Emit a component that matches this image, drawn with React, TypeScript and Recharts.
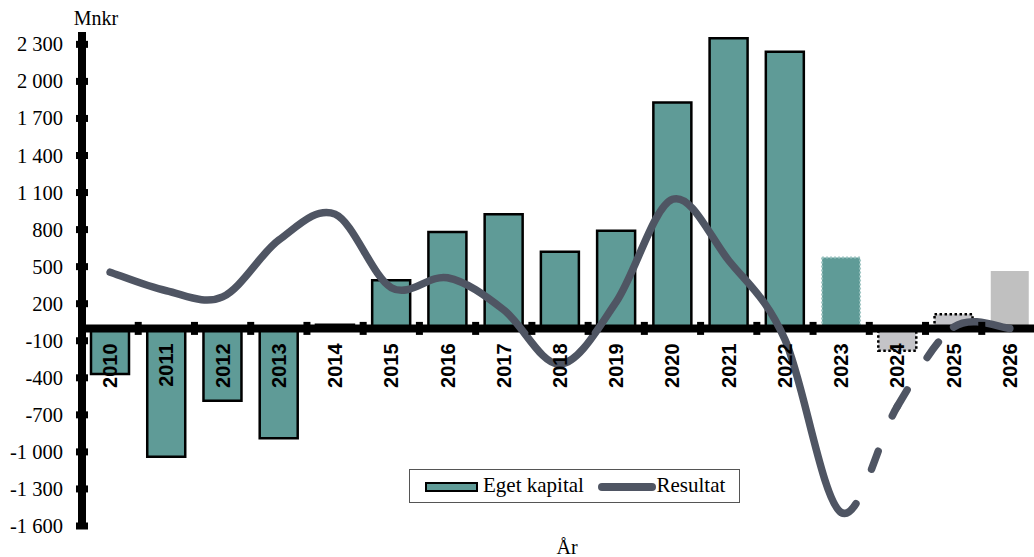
import React from 'react';
import { ComposedChart, Bar, Line, XAxis, YAxis, Cell, ReferenceLine, Legend } from 'recharts';

const YEARS = ['2010', '2011', '2012', '2013', '2014', '2015', '2016', '2017', '2018', '2019', '2020', '2021', '2022', '2023', '2024', '2025', '2026'];
const EGET_KAPITAL = [-370, -1040, -585, -890, 30, 390, 780, 925, 620, 790, 1830, 2350, 2240, 575, -180, 115, 465];
const RESULTAT = [455, 305, 255, 715, 925, 330, 410, 150, -290, 215, 1045, 550, -90, -1490, -630, 10, 0];
const Y_TICKS = [-1600, -1300, -1000, -700, -400, -100, 200, 500, 800, 1100, 1400, 1700, 2000, 2300];
// bar style kind per year: actual, projected, estimate (dotted gray), plain gray
const BAR_KIND = ['a', 'a', 'a', 'a', 'a', 'a', 'a', 'a', 'a', 'a', 'a', 'a', 'a', 'p', 'e', 'e', 'g'];

const Y_MIN = -1600;
const Y_MAX = 2400;

const data = YEARS.map((year, i) => ({ year, eget: EGET_KAPITAL[i], resultat: RESULTAT[i] }));

const CHART_W = 1039;
const CHART_H = 557;
const X_AXIS_H = 1;
const MARGIN = { top: 32, right: 1, bottom: 30, left: 0 };
const Y_AXIS_W = 82;
const PLOT_W = CHART_W - MARGIN.left - MARGIN.right - Y_AXIS_W;
const PLOT_H = CHART_H - MARGIN.top - MARGIN.bottom - X_AXIS_H;
const BAND = PLOT_W / YEARS.length;
const ZERO_Y = MARGIN.top + ((Y_MAX - 0) / (Y_MAX - Y_MIN)) * PLOT_H;

const SERIF = '"Liberation Serif", "Times New Roman", serif';
const SANS = '"Liberation Sans", Arial, sans-serif';
const TEAL = '#5f9b97';
const LINE_COLOR = '#4f5563';
const GRAY = '#c4c4c8';

const fmt = (v: number) => {
  const s = Math.abs(v).toString().replace(/\B(?=(\d{3})+(?!\d))/g, ' ');
  return (v < 0 ? '-' : '') + s;
};

function makeCurve(from: number, to: number) {
  return (context: any) => {
    let pts: number[][] = [];
    return {
      areaStart() {},
      areaEnd() {},
      lineStart() {
        pts = [];
      },
      point(x: number, y: number) {
        pts.push([+x, +y]);
      },
      lineEnd() {
        const n = pts.length;
        const s = Math.max(0, from);
        const e = Math.min(n - 1, to);
        if (n < 2 || s >= e) return;
        context.moveTo(pts[s][0], pts[s][1]);
        for (let i = s; i < e; i++) {
          const p0 = pts[Math.max(0, i - 1)];
          const p1 = pts[i];
          const p2 = pts[i + 1];
          const p3 = pts[Math.min(n - 1, i + 2)];
          const c1x = p1[0] + (p2[0] - p0[0]) / 6;
          const c1y = p1[1] + (p2[1] - p0[1]) / 6;
          const c2x = p2[0] - (p3[0] - p1[0]) / 6;
          const c2y = p2[1] - (p3[1] - p1[1]) / 6;
          context.bezierCurveTo(c1x, c1y, c2x, c2y, p2[0], p2[1]);
        }
      },
    };
  };
}

const LINE_PARTS = [
  { from: 0, to: 13, dash: undefined as string | undefined },
  { from: 13, to: 14, dash: '19 38' },
  { from: 14, to: 15, dash: '19 38' },
  { from: 15, to: 16, dash: undefined as string | undefined },
];

const YTick = (props: any) => {
  const { x, y, payload } = props;
  return (
    <g>
      <rect x={x - 6} y={y - 3.5} width={12} height={7} fill="#000" />
      <text x={63} y={y + 7} textAnchor="end" fontFamily={SERIF} fontSize={20.5} fill="#000">
        {fmt(payload.value)}
      </text>
    </g>
  );
};

const XTick = (props: any) => {
  const { x, payload } = props;
  return (
    <g>
      <rect x={x + BAND / 2 - 3.5} y={ZERO_Y - 6.5} width={7} height={13} fill="#000" />
      <g transform={`translate(${x},${ZERO_Y + 15}) rotate(-90)`}>
        <text x={0} y={7} textAnchor="end" fontFamily={SANS} fontWeight="bold" fontSize={20} fill="#000">
          {payload.value}
        </text>
      </g>
    </g>
  );
};

const cellProps = (kind: string) => {
  switch (kind) {
    case 'p':
      return { fill: TEAL, stroke: '#9cc4c1', strokeWidth: 2, strokeDasharray: '2 2' };
    case 'e':
      return { fill: GRAY, stroke: '#000', strokeWidth: 2.5, strokeDasharray: '2.5 2.5' };
    case 'g':
      return { fill: '#c0c0c0', stroke: 'none', strokeWidth: 0 };
    default:
      return { fill: TEAL, stroke: '#000', strokeWidth: 2.5 };
  }
};

const LegendContent = () => (
  <div
    style={{
      position: 'relative',
      width: 331,
      height: 34,
      boxSizing: 'border-box',
      border: '1.5px solid #555',
      background: '#fff',
      fontFamily: SERIF,
      fontSize: 21,
      color: '#000',
    }}
  >
    <div
      style={{
        position: 'absolute',
        left: 15,
        top: 11.5,
        width: 53,
        height: 10,
        boxSizing: 'border-box',
        background: TEAL,
        border: '2.5px solid #000',
      }}
    />
    <span style={{ position: 'absolute', left: 73, top: 2, lineHeight: '26px', whiteSpace: 'nowrap' }}>Eget kapital</span>
    <div
      style={{
        position: 'absolute',
        left: 188,
        top: 12.5,
        width: 58,
        height: 8,
        borderRadius: 4,
        background: LINE_COLOR,
      }}
    />
    <span style={{ position: 'absolute', left: 246.5, top: 2, lineHeight: '26px', whiteSpace: 'nowrap' }}>Resultat</span>
  </div>
);

export default function App() {
  const lineZ: any = { zIndex: 1500 };
  return (
    <div style={{ position: 'absolute', left: 0, top: 0, width: 1034, height: 557, overflow: 'hidden', background: '#fff' }}>
      <ComposedChart width={CHART_W} height={CHART_H} data={data} margin={MARGIN} barSize={38}>
        <XAxis dataKey="year" height={X_AXIS_H} axisLine={false} tickLine={false} interval={0} tick={<XTick />} />
        <YAxis
          width={Y_AXIS_W}
          type="number"
          domain={[Y_MIN, Y_MAX]}
          ticks={Y_TICKS}
          interval={0}
          allowDataOverflow
          axisLine={{ stroke: '#000', strokeWidth: 8 }}
          tickLine={false}
          tickSize={0}
          tickMargin={0}
          tick={<YTick />}
        />
        <Bar dataKey="eget" name="Eget kapital" isAnimationActive={false}>
          {BAR_KIND.map((k, i) => (
            <Cell key={i} {...cellProps(k)} />
          ))}
        </Bar>
        <ReferenceLine y={0} stroke="#000" strokeWidth={8} />
        {LINE_PARTS.map((p, i) => (
          <Line
            key={i}
            {...lineZ}
            dataKey="resultat"
            name="Resultat"
            type={makeCurve(p.from, p.to) as any}
            stroke={LINE_COLOR}
            strokeWidth={7.5}
            strokeLinecap="round"
            strokeDasharray={p.dash}
            dot={false}
            activeDot={false}
            legendType="none"
            isAnimationActive={false}
          />
        ))}
        <Legend
          layout="horizontal"
          verticalAlign="middle"
          align="center"
          content={<LegendContent />}
          wrapperStyle={{ position: 'absolute', left: 409, top: 469, width: 331, height: 34 }}
        />
      </ComposedChart>
      <svg width={1034} height={557} style={{ position: 'absolute', left: 0, top: 0, pointerEvents: 'none' }}>
        <text x={96} y={25} textAnchor="middle" fontFamily={SERIF} fontSize={20} fill="#000">
          Mnkr
        </text>
        <text x={567} y={554} textAnchor="middle" fontFamily={SERIF} fontSize={20} fill="#000">
          År
        </text>
      </svg>
    </div>
  );
}
